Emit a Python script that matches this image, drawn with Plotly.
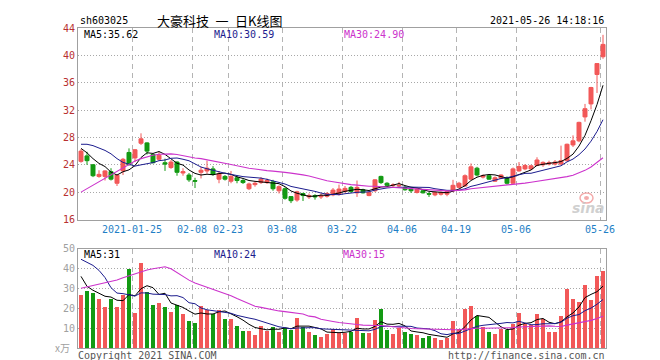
import plotly.graph_objects as go

# ---------------- data ----------------
tick_labels = ["2021-01-25", "02-08", "02-23", "03-08", "03-22", "04-06", "04-19", "05-06", "05-26"]
tick_index = [9, 19, 25, 34, 44, 54, 63, 73, 87]

open_ = [24.5, 25.3, 24.0, 22.3, 22.3, 23.0, 21.3, 23.1, 25.8, 25.0,
         27.15, 27.2, 25.5, 24.8, 24.3, 23.6, 24.4, 22.8, 22.5, 21.7,
         22.9, 23.1, 23.4, 21.9, 22.3, 21.6, 22.1, 21.7, 20.5, 21.1,
         21.4, 21.4, 21.5, 20.2, 20.5, 19.35, 18.85, 19.8, 19.3, 19.5,
         19.3, 19.4, 19.6, 19.7, 20.1, 20.7, 19.9, 20.35, 19.5, 20.2,
         22.3, 21.3, 20.95, 20.9, 20.7, 20.45, 19.95, 20.2, 19.8, 19.6,
         19.7, 19.7, 20.2, 20.7, 20.9, 21.9, 23.5, 22.2, 22.4, 21.6,
         22.05, 22.1, 21.3, 23.1, 23.4, 23.4, 23.9, 24.0, 24.1, 24.1,
         24.1, 24.6, 26.9, 27.5, 31.0, 32.9, 37.2, 39.8]
high = [26.3, 25.9, 24.1, 23.2, 23.2, 23.5, 22.6, 25.0, 26.4, 26.3,
        28.6, 27.3, 25.7, 25.9, 24.9, 24.7, 24.5, 23.5, 22.8, 22.1,
        23.7, 24.6, 23.8, 23.1, 22.5, 23.1, 22.4, 21.9, 21.4, 21.6,
        22.2, 22.0, 21.8, 21.0, 20.7, 19.4, 20.2, 19.9, 19.8, 19.7,
        19.8, 20.0, 20.6, 21.1, 20.9, 20.9, 21.7, 20.5, 20.1, 21.9,
        22.4, 21.45, 21.3, 21.5, 20.9, 20.6, 20.6, 20.3, 20.0, 20.1,
        20.1, 20.2, 21.8, 21.5, 22.6, 24.2, 23.7, 22.6, 22.5, 22.3,
        22.6, 22.3, 23.6, 24.4, 24.1, 24.0, 25.1, 24.5, 24.6, 24.7,
        26.8, 27.1, 28.3, 30.3, 32.9, 35.4, 38.8, 43.0]
low = [24.3, 24.0, 22.2, 22.1, 21.7, 21.7, 20.9, 22.5, 23.9, 24.4,
       26.9, 25.5, 24.2, 24.6, 23.1, 23.4, 22.4, 22.4, 21.5, 20.6,
       22.0, 22.7, 22.4, 21.3, 21.7, 21.3, 21.3, 21.2, 20.3, 20.8,
       21.2, 21.2, 20.2, 19.8, 18.9, 18.4, 18.6, 18.7, 19.0, 18.9,
       19.0, 19.2, 19.4, 19.5, 19.9, 19.9, 19.3, 19.8, 19.4, 20.0,
       21.2, 20.9, 20.7, 20.7, 20.2, 19.9, 19.8, 19.8, 19.3, 19.4,
       19.5, 19.4, 20.0, 20.6, 20.8, 21.8, 22.3, 22.0, 21.8, 21.5,
       21.9, 21.1, 21.2, 23.0, 23.2, 23.2, 23.8, 23.7, 23.9, 23.9,
       24.0, 24.5, 26.6, 27.3, 30.3, 32.1, 34.5, 39.5]
close = [26.0, 24.6, 22.4, 22.6, 23.1, 21.9, 22.5, 24.8, 24.0, 26.2,
         27.8, 26.0, 24.3, 25.4, 24.1, 24.4, 22.9, 23.0, 21.8, 21.6,
         23.2, 23.5, 22.6, 22.7, 21.9, 22.3, 21.7, 21.4, 21.2, 21.3,
         21.9, 21.7, 20.5, 20.8, 19.1, 18.75, 20.05, 19.5, 19.5, 19.3,
         19.5, 19.8, 20.3, 20.45, 20.55, 20.1, 20.7, 19.9, 19.95, 21.8,
         21.4, 21.0, 21.05, 21.0, 20.35, 20.2, 20.45, 19.9, 19.7, 19.95,
         19.95, 20.1, 21.0, 21.3, 22.4, 23.7, 22.5, 22.4, 21.9, 22.1,
         22.5, 21.3, 23.4, 23.75, 23.9, 23.85, 24.7, 24.35, 24.3, 24.4,
         24.6, 27.0, 27.5, 30.2, 32.2, 35.3, 38.8, 41.6]
volume = [27, 29, 28, 25, 21, 25, 21, 27, 40, 18,
          43, 28.5, 22, 23, 21, 18.5, 22, 17.5, 14, 13,
          21.5, 19.5, 17.5, 19.5, 15, 15, 11.5, 9, 9, 7,
          11.5, 9, 11, 8.5, 10.5, 9.5, 15.5, 11, 8.5, 7,
          6, 7.5, 10, 8, 8, 8.3, 15.5, 8, 8, 14.5,
          20, 9.5, 7.5, 10.3, 8.3, 7.2, 7, 5.5, 6.2, 5.5,
          4.5, 5.3, 14, 10, 19.7, 21.5, 16.5, 10.8, 8.5, 7.5,
          10, 9.5, 12.2, 18, 12.2, 11.7, 17.3, 15, 8.5, 8.5,
          16.5, 29.7, 25, 23.5, 32, 24.5, 36.5, 39]

ma5_head = [26.4, 25.75, 24.9, 24.2]
ma10_head = [27.0, 27.0, 26.8, 26.5, 26.1, 25.6, 24.9, 24.35, 24.05]
ma30_head = [20.0, 20.5, 21.0, 21.6, 22.1, 22.6, 23.1, 23.6, 24.1, 24.55,
             24.9, 25.2, 25.4, 25.55, 25.6, 25.6, 25.5, 25.3, 25.2, 25.0,
             24.9, 24.75, 24.55, 24.4, 24.2, 24.05, 23.85, 23.65, 23.5]
vol_ma5_head = [36.0, 31.0, 29.0, 27.5]
vol_ma10_head = [44.6, 43.2, 41.5, 39.0, 35.4, 30.3, 27.6, 27.3, 26.6]
vol_ma30_head = [30.0, 30.7, 31.4, 32.0, 32.7, 33.4, 34.2, 35.3, 36.3, 37.3,
                 38.3, 39.2, 39.8, 40.3, 40.8, 39.8, 37.8, 35.8, 34.1, 32.7,
                 31.7, 30.5, 29.7, 28.6, 27.6, 26.3, 24.9, 23.6, 22.2]

header_code = "sh603025"
header_title = "大豪科技\u2002一\u2002日K线图"
header_time = "2021-05-26 14:18:16"
price_ma_text = ["MA5:35.62", "MA10:30.59", "MA30:24.90"]
vol_ma_text = ["MA5:31", "MA10:24", "MA30:15"]


def moving_avg(values, n, head):
    out = list(head)
    for i in range(len(head), len(values)):
        out.append(sum(values[i - n + 1:i + 1]) / n)
    return out


RED = "#f25858"
GREEN = "#139a13"
C_MA5 = "#000000"
C_MA10 = "#1c1c8e"
C_MA30 = "#cc33cc"
MONO = "DejaVu Sans Mono"

x = list(range(len(close)))
up = [c >= o for o, c in zip(open_, close)]
vol_colors = [RED if u else GREEN for u in up]

fig = go.Figure()

fig.add_trace(go.Candlestick(
    x=x, open=open_, high=high, low=low, close=close,
    increasing=dict(line=dict(color=RED, width=1), fillcolor=RED),
    decreasing=dict(line=dict(color=GREEN, width=1), fillcolor=GREEN),
    whiskerwidth=0, xaxis="x", yaxis="y", hoverinfo="skip", showlegend=False))

for vals, n, head, col in [(close, 5, ma5_head, C_MA5), (close, 10, ma10_head, C_MA10),
                           (close, 30, ma30_head, C_MA30)]:
    fig.add_trace(go.Scatter(x=x, y=moving_avg(vals, n, head), mode="lines",
                             line=dict(color=col, width=1.1 if col == C_MA30 else 1),
                             xaxis="x", yaxis="y", hoverinfo="skip", showlegend=False))

fig.add_trace(go.Bar(x=x, y=volume, marker=dict(color=vol_colors, line=dict(width=0)),
                     width=0.82, xaxis="x2", yaxis="y2", hoverinfo="skip", showlegend=False))

for vals, n, head, col in [(volume, 5, vol_ma5_head, C_MA5), (volume, 10, vol_ma10_head, C_MA10),
                           (volume, 30, vol_ma30_head, C_MA30)]:
    fig.add_trace(go.Scatter(x=x, y=moving_avg(vals, n, head), mode="lines",
                             line=dict(color=col, width=1.1 if col == C_MA30 else 1),
                             xaxis="x2", yaxis="y2", hoverinfo="skip", showlegend=False))

L, R, T, B = 70, 62, 20, 20
W, H = 660, 360
PW, PH = W - L - R, H - T - B


def ax(px):
    return (px - L) / PW


def ay(py):
    return (H - B - py) / PH


grid_x = [i - 0.5 for i in tick_index]
xcommon = dict(range=[-0.5, len(close) - 0.5], tickvals=grid_x, showgrid=True,
               gridcolor="#b4b4b4", griddash="5px,4px", gridwidth=1, zeroline=False,
               showline=True, mirror=True, linecolor="#a0a0a0", linewidth=1, ticks="",
               fixedrange=True)

fig.update_layout(
    width=W, height=H, margin=dict(l=L, r=R, t=T, b=B, pad=0),
    paper_bgcolor="white", plot_bgcolor="white",
    boxgap=0.2, boxgroupgap=0.17,
    bargap=0,
    xaxis=dict(**xcommon, domain=[0, 1], anchor="y", ticktext=tick_labels,
               tickfont=dict(family=MONO, size=10, color="#1f7fc6"),
               rangeslider=dict(visible=False)),
    xaxis2=dict(**xcommon, domain=[0, 1], anchor="y2", matches="x", showticklabels=False),
    yaxis=dict(domain=[ay(211.5), 1], range=[16, 44], tickvals=list(range(16, 45, 4)),
               tickfont=dict(family=MONO, size=10, color="#b83030"),
               showgrid=True, gridcolor="#a8a8a8", griddash="1px,2px", zeroline=False,
               showline=True, mirror=True, linecolor="#a0a0a0", ticks="", fixedrange=True),
    yaxis2=dict(domain=[0, ay(240.5)], range=[0, 50], tickvals=[10, 20, 30, 40, 50],
                tickfont=dict(family=MONO, size=10, color="#a0a0a0"),
                showgrid=True, gridcolor="#a8a8a8", griddash="1px,2px", zeroline=False,
                showline=True, mirror=True, linecolor="#a0a0a0", ticks="", fixedrange=True),
    showlegend=False,
)

ann = []


def text(s, px, py, anchor="left", color="#000", size=10, family=MONO):
    ann.append(dict(text=s, x=ax(px), y=ay(py), xref="paper", yref="paper",
                    xanchor=anchor, yanchor="middle", showarrow=False,
                    font=dict(family=family, size=size, color=color)))


text(header_code, 70, 13)
text(header_title, 211.5, 13, anchor="center", size=13, family="Noto Sans CJK SC")
text(header_time, 598, 13, anchor="right")
for s, px, col in zip(price_ma_text, [74, 204, 334], [C_MA5, C_MA10, C_MA30]):
    text(s, px, 26.5, color=col)
for s, px, col in zip(vol_ma_text, [74, 204, 333], [C_MA5, C_MA10, C_MA30]):
    text(s, px, 246.5, color=col)
text("x万", 64, 339, anchor="right", color="#a0a0a0", size=10, family="Noto Sans CJK SC")
text("Copyright 2021 SINA.COM", 68, 347, color="#555555")
text("http://finance.sina.com.cn", 599, 347, anchor="right", color="#555555")
ann.append(dict(text="<b><i>sina</i></b>", x=ax(580), y=ay(200), xref="paper", yref="paper",
                xanchor="center", yanchor="middle", showarrow=False,
                font=dict(family="DejaVu Sans", size=14, color="rgba(200,200,200,0.85)")))
fig.update_layout(annotations=ann)

# Sina logo (decorative eye above the watermark)
fig.add_shape(type="circle", xref="paper", yref="paper",
              x0=ax(572), x1=ax(585), y0=ay(195), y1=ay(185),
              line=dict(color="rgba(240,150,150,0.8)", width=1.5),
              fillcolor="rgba(255,255,255,0)")
fig.add_shape(type="circle", xref="paper", yref="paper",
              x0=ax(576), x1=ax(581), y0=ay(192), y1=ay(188),
              line=dict(width=0), fillcolor="rgba(240,150,150,0.8)")

fig.write_html("out.html")
